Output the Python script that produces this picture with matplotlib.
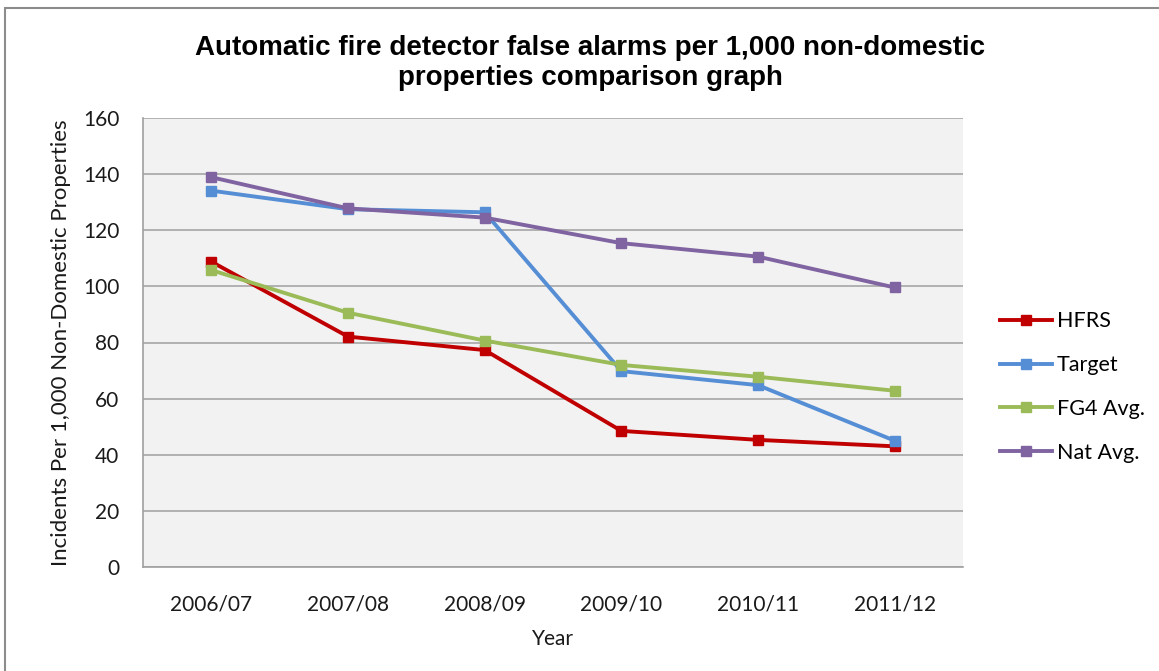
import matplotlib
matplotlib.use('Agg')
from matplotlib import pyplot as plt
from matplotlib.patches import Rectangle

years = ['2006/07', '2007/08', '2008/09', '2009/10', '2010/11', '2011/12']
hfrs = [108.8, 82.1, 77.3, 48.5, 45.3, 43.0]
target = [134.1, 127.5, 126.4, 69.8, 64.8, 45.0]
fg4_avg = [105.8, 90.6, 80.7, 72.0, 67.8, 62.8]
nat_avg = [138.9, 127.8, 124.5, 115.4, 110.6, 99.6]

series = [('HFRS', hfrs, '#C00000'),
          ('Target', target, '#558ED5'),
          ('FG4 Avg.', fg4_avg, '#9BBB59'),
          ('Nat Avg.', nat_avg, '#8064A2')]

fig = plt.figure(figsize=(11.59, 6.71), dpi=100)
# outer chart border (only top and left are visible in the picture)
fig.patches.append(Rectangle((5 / 1159, -0.1), 1.2, (671 - 8) / 671 + 0.1,
                             transform=fig.transFigure, fill=False,
                             edgecolor='#8C8C8C', linewidth=1.5))

ax = fig.add_axes([143 / 1159, 1 - 567 / 671, 820 / 1159, 449 / 671])
ax.set_facecolor('#F2F2F2')

x = range(len(years))
for name, vals, col in series:
    ax.plot(x, vals, color=col, linewidth=2.8, marker='s', markersize=7.5, label=name)

ax.set_xlim(-0.5, len(years) - 0.5)
ax.set_ylim(0, 160)
ax.set_yticks(range(0, 161, 20))
ax.set_xticks(list(x))
ax.set_xticklabels(years)
ax.yaxis.grid(True, color='#A6A6A6', linewidth=1.2)
ax.set_axisbelow(True)
for s in ['top', 'right']:
    ax.spines[s].set_visible(False)
for s in ['left', 'bottom']:
    ax.spines[s].set_color('#A0A0A0')
    ax.spines[s].set_linewidth(1.2)
ax.tick_params(axis='both', length=0, labelsize=15, labelcolor='#1A1A1A')
for lbl in ax.get_xticklabels() + ax.get_yticklabels():
    lbl.set_family('Lato')
ax.tick_params(axis='y', pad=17)
ax.tick_params(axis='x', pad=20)

ax.set_xlabel('Year', fontsize=15, family='Lato', labelpad=10, color='#1A1A1A')
ax.set_ylabel('Incidents Per 1,000 Non-Domestic Properties', fontsize=16,
              family='Lato', labelpad=9, color='#1A1A1A')

fig.text(590 / 1159, 1 - 63 / 671,
         'Automatic fire detector false alarms per 1,000 non-domestic\nproperties comparison graph',
         ha='center', va='center', fontsize=20, fontweight='bold',
         family='Liberation Sans', linespacing=1.2)

leg = ax.legend(loc='center left', bbox_to_anchor=(1000 / 1159, 1 - 387 / 671),
                bbox_transform=fig.transFigure, frameon=False, borderpad=0,
                borderaxespad=0, prop={'family': 'Lato', 'size': 15.5},
                handlelength=2.4, labelspacing=1.1, handletextpad=0.25)

fig.savefig('out.png', dpi=100)
